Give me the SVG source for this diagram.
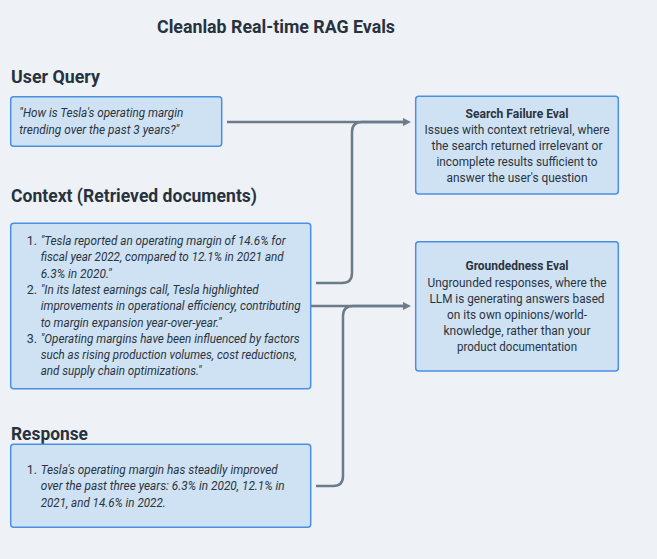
<svg xmlns="http://www.w3.org/2000/svg" width="657" height="559" viewBox="0 0 657 559">
<defs>
<style>
.bg{fill:#eef2f7}
.box{fill:#cfe2f3;stroke:#4a90e2;stroke-width:1.5}
.h{font-family:Roboto,"Liberation Sans",sans-serif;font-weight:bold;fill:#28323e}
.t{font-family:Roboto,"Liberation Sans",sans-serif;font-size:12.5px;fill:#2a3441}
.i{font-style:italic}
.b{font-weight:bold}
.c{text-anchor:middle}
.conn{fill:none;stroke:#6b7b8a;stroke-width:2.5}
</style>
<marker id="arrow" markerUnits="userSpaceOnUse" markerWidth="9" markerHeight="10" refX="1" refY="5" orient="auto">
<path d="M0,1 L8,5 L0,9 Z" fill="#6b7b8a"/>
</marker>
</defs>
<rect class="bg" x="0" y="0" width="657" height="559"/>
<g id="title">
<text class="h" x="157" y="32.5" font-size="17.5" textLength="238" lengthAdjust="spacingAndGlyphs">Cleanlab Real-time RAG Evals</text>
</g>
<g id="connectors">
<path class="conn" d="M227 122 H404" marker-end="url(#arrow)"/>
<path class="conn" d="M316 283 H342 Q352 283 352 273 V132 Q352 122 362 122 H404"/>
<path class="conn" d="M311 306 H404" marker-end="url(#arrow)"/>
<path class="conn" d="M316 486 H333 Q343 486 343 476 V316 Q343 306 353 306 H404"/>
</g>
<g id="user-query">
<text class="h" x="11" y="83.3" font-size="18.5" textLength="89" lengthAdjust="spacingAndGlyphs">User Query</text>
<rect class="box" x="10.7" y="96.7" width="211" height="49.5" rx="3"/>
<text class="t i" x="19.3" y="117" textLength="164" lengthAdjust="spacingAndGlyphs">"How is Tesla's operating margin</text>
<text class="t i" x="19.3" y="134" textLength="160" lengthAdjust="spacingAndGlyphs">trending over the past 3 years?"</text>
</g>
<g id="context">
<text class="h" x="11" y="202" font-size="18.5" textLength="246" lengthAdjust="spacingAndGlyphs">Context (Retrieved documents)</text>
<rect class="box" x="10.7" y="223.3" width="300" height="165.5" rx="3"/>
<text class="t" x="26.7" y="245">1.</text>
<text class="t i" x="40.7" y="245" textLength="245" lengthAdjust="spacingAndGlyphs">"Tesla reported an operating margin of 14.6% for</text>
<text class="t i" x="40.7" y="261.3" textLength="243" lengthAdjust="spacingAndGlyphs">fiscal year 2022, compared to 12.1% in 2021 and</text>
<text class="t i" x="40.7" y="277.6" textLength="71" lengthAdjust="spacingAndGlyphs">6.3% in 2020."</text>
<text class="t" x="26.7" y="293.9">2.</text>
<text class="t i" x="40.7" y="293.9" textLength="218" lengthAdjust="spacingAndGlyphs">"In its latest earnings call, Tesla highlighted</text>
<text class="t i" x="40.7" y="310.2" textLength="260" lengthAdjust="spacingAndGlyphs">improvements in operational efficiency, contributing</text>
<text class="t i" x="40.7" y="326.5" textLength="181" lengthAdjust="spacingAndGlyphs">to margin expansion year-over-year."</text>
<text class="t" x="26.7" y="342.8">3.</text>
<text class="t i" x="40.7" y="342.8" textLength="259" lengthAdjust="spacingAndGlyphs">"Operating margins have been influenced by factors</text>
<text class="t i" x="40.7" y="359.1" textLength="256" lengthAdjust="spacingAndGlyphs">such as rising production volumes, cost reductions,</text>
<text class="t i" x="40.7" y="375.4" textLength="161" lengthAdjust="spacingAndGlyphs">and supply chain optimizations."</text>
</g>
<g id="response">
<text class="h" x="11" y="440" font-size="18.5" textLength="77" lengthAdjust="spacingAndGlyphs">Response</text>
<rect class="box" x="10.7" y="444.3" width="300" height="83" rx="3"/>
<text class="t" x="26.7" y="474">1.</text>
<text class="t i" x="40.7" y="474" textLength="237" lengthAdjust="spacingAndGlyphs">Tesla's operating margin has steadily improved</text>
<text class="t i" x="40.7" y="490.3" textLength="244" lengthAdjust="spacingAndGlyphs">over the past three years: 6.3% in 2020, 12.1% in</text>
<text class="t i" x="40.7" y="506.6" textLength="125" lengthAdjust="spacingAndGlyphs">2021, and 14.6% in 2022.</text>
</g>
<g id="search-failure-eval">
<rect class="box" x="415.7" y="96.3" width="202.6" height="97.7" rx="3"/>
<text class="t b c" x="517" y="117.5" textLength="103" lengthAdjust="spacingAndGlyphs">Search Failure Eval</text>
<text class="t c" x="517" y="134" textLength="185" lengthAdjust="spacingAndGlyphs">Issues with context retrieval, where</text>
<text class="t c" x="517" y="150" textLength="171" lengthAdjust="spacingAndGlyphs">the search returned irrelevant or</text>
<text class="t c" x="517" y="166" textLength="161" lengthAdjust="spacingAndGlyphs">incomplete results sufficient to</text>
<text class="t c" x="517" y="182" textLength="141" lengthAdjust="spacingAndGlyphs">answer the user's question</text>
</g>
<g id="groundedness-eval">
<rect class="box" x="415.7" y="241.7" width="202.6" height="129.3" rx="3"/>
<text class="t b c" x="517" y="270" textLength="103" lengthAdjust="spacingAndGlyphs">Groundedness Eval</text>
<text class="t c" x="517" y="287" textLength="179" lengthAdjust="spacingAndGlyphs">Ungrounded responses, where the</text>
<text class="t c" x="517" y="303.3" textLength="175" lengthAdjust="spacingAndGlyphs">LLM is generating answers based</text>
<text class="t c" x="517" y="319.3" textLength="140" lengthAdjust="spacingAndGlyphs">on its own opinions/world-</text>
<text class="t c" x="517" y="335" textLength="147" lengthAdjust="spacingAndGlyphs">knowledge, rather than your</text>
<text class="t c" x="517" y="351" textLength="120" lengthAdjust="spacingAndGlyphs">product documentation</text>
</g>
</svg>
